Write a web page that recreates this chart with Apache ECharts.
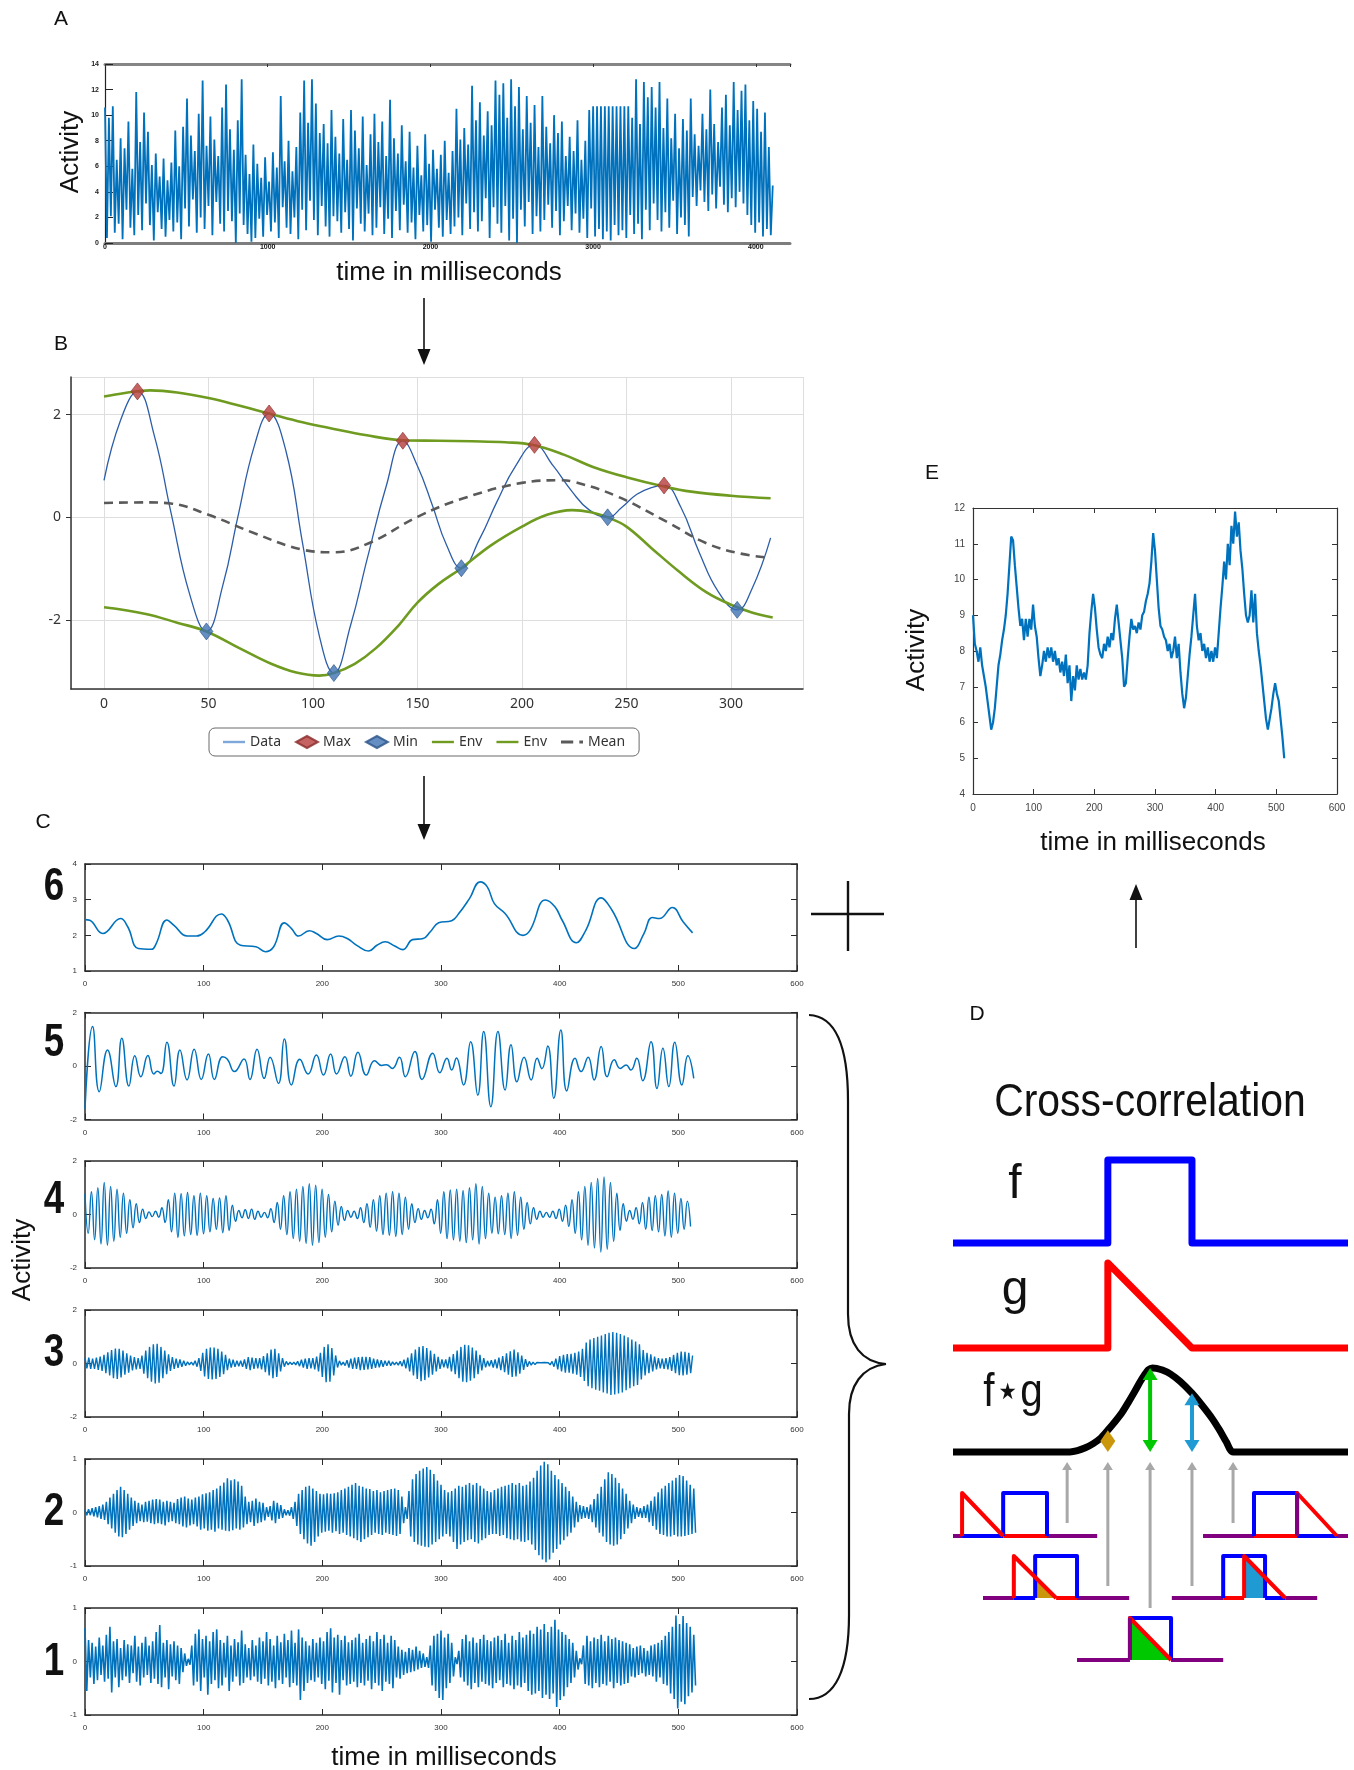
<!DOCTYPE html>
<html>
<head>
<meta charset="utf-8">
<title>Activity decomposition and cross-correlation</title>
<script src="https://cdn.jsdelivr.net/npm/echarts@6/dist/echarts.min.js"></script>
<style>
  html, body { margin: 0; padding: 0; background: #ffffff; }
  #chart { width: 1354px; height: 1770px; }
</style>
</head>
<body>
<div id="chart"></div>
<script>
// ---------------- Panel A: raw activity trace (one sample every rawStepMs) ----------------
const rawStepMs = 12;
const rawActivity = [
  10.6,0.4,9.8,2.1,10.7,0.8,6.5,1.5,8.2,0.3,7.4,2.6,9.5,1.2,5.8,0.6,11.8,2.2,7.9,1.0,
  10.2,3.1,8.7,1.4,6.1,0.2,7.0,2.4,5.2,1.1,6.6,0.5,4.9,1.8,6.3,0.9,8.8,1.6,6.0,0.3,
  9.1,2.7,11.3,1.3,8.4,3.4,7.2,0.8,10.1,2.0,12.7,1.1,7.6,2.9,9.9,0.6,8.1,3.2,6.8,1.5,
  10.6,0.9,12.4,2.5,8.9,1.7,7.3,0.0,9.6,2.3,12.8,1.4,6.9,0.7,5.4,0.1,7.7,0.4,6.2,1.9,
  5.1,0.5,6.7,2.2,4.8,0.9,7.1,1.6,5.9,0.4,11.5,2.8,6.4,1.2,8.0,0.7,5.6,2.0,7.5,0.3,
  10.2,2.6,12.7,1.0,9.4,3.3,12.8,1.8,10.9,0.6,8.6,2.9,9.3,1.3,7.8,0.5,10.4,2.1,8.3,1.7,
  7.0,0.8,9.7,2.4,6.5,1.1,10.4,0.2,8.8,2.7,7.4,1.5,9.9,0.9,6.1,2.3,8.5,0.6,10.1,1.2,
  7.9,2.8,9.5,0.7,6.8,1.9,11.2,0.4,8.2,2.5,7.0,1.0,9.2,3.0,6.4,0.8,8.7,1.6,5.9,0.3,
  7.6,2.2,5.3,0.9,8.5,1.4,6.2,0.1,7.3,2.6,5.8,1.2,6.9,0.5,8.0,1.8,5.5,0.7,7.2,1.3,
  10.5,2.0,8.1,0.6,9.0,3.1,7.7,1.1,12.3,2.4,9.6,0.9,11.0,1.7,8.4,3.5,10.3,0.4,9.2,2.8,
  12.7,1.5,11.6,0.8,12.5,2.9,9.8,0.2,12.8,1.9,10.7,0.0,12.2,2.6,8.9,1.3,11.5,3.2,9.4,0.7,
  10.8,2.1,7.5,0.9,11.5,1.8,9.1,3.0,7.8,1.2,10.0,2.5,8.6,0.6,9.5,1.7,6.8,2.9,8.3,1.0,
  7.2,2.3,9.6,0.8,6.5,1.9,8.0,0.4,10.4,2.7,10.7,0.5,10.7,1.1,10.7,0.3,10.7,0.9,10.7,0.2,
  10.7,1.4,10.7,0.6,10.7,1.0,10.7,0.4,10.7,2.2,9.8,0.7,12.8,1.5,9.3,0.3,12.6,2.6,11.4,1.0,
  12.2,3.1,10.6,1.8,12.6,0.9,9.0,2.4,11.3,1.2,8.2,3.3,10.1,0.7,7.4,2.0,9.7,1.4,8.8,0.5,
  11.3,3.6,8.5,2.9,7.6,4.1,10.1,3.2,8.9,2.5,12.0,3.8,9.3,2.7,7.9,4.4,10.6,3.0,11.6,2.4,
  9.2,3.5,12.6,2.8,10.4,4.0,11.9,3.1,12.4,2.2,9.6,1.4,11.1,0.8,10.5,1.6,8.7,0.5,10.2,1.1,
  7.5,0.6,4.5
];
const rawAxisX = [0, 4210, 1000];
const rawAxisY = [0, 14, 2];

// ---------------- Panel B: one oscillation with its extrema, envelopes and mean ----------------
const decompData = [
  [0,0.72],[8,1.9],[16,2.45],[24,1.6],[32,0.1],[41,-1.5],[49,-2.22],[57,-1.3],[64,0.0],[72,1.4],
  [79,2.02],[87,1.3],[95,-0.5],[103,-2.3],[110,-3.03],[118,-2.1],[126,-0.8],[135,0.6],[143,1.49],
  [150,1.0],[157,0.25],[164,-0.55],[171,-0.99],[180,-0.4],[188,0.3],[197,1.0],[206,1.41],[215,1.0],
  [224,0.5],[232,0.15],[241,0.0],[248,0.2],[255,0.45],[262,0.58],[268,0.62],[276,0.2],[285,-0.7],
  [294,-1.45],[303,-1.8],[310,-1.4],[319,-0.4]
];
const decompMax = [[16,2.45],[79,2.02],[143,1.49],[206,1.41],[268,0.62]];
const decompMin = [[49,-2.22],[110,-3.03],[171,-0.99],[241,0.0],[303,-1.8]];
const envUpper = [
  [0,2.35],[10,2.42],[22,2.47],[35,2.43],[50,2.32],[65,2.17],[79,2.02],[95,1.85],[110,1.72],[125,1.6],
  [143,1.5],[160,1.49],[176,1.48],[192,1.46],[205,1.41],[220,1.22],[234,0.98],[250,0.78],[268,0.6],
  [281,0.5],[300,0.42],[319,0.37]
];
const envLower = [
  [0,-1.75],[20,-1.88],[35,-2.05],[49,-2.22],[65,-2.55],[80,-2.85],[92,-3.02],[103,-3.08],[110,-3.03],
  [120,-2.85],[130,-2.55],[141,-2.1],[150,-1.66],[160,-1.3],[171,-0.99],[185,-0.55],[200,-0.18],
  [212,0.05],[224,0.14],[233,0.1],[241,0.0],[250,-0.18],[262,-0.6],[275,-1.05],[288,-1.45],[300,-1.7],
  [310,-1.85],[320,-1.95]
];
const envMean = [
  [0,0.28],[20,0.29],[32,0.27],[50,0.05],[72,-0.31],[95,-0.63],[110,-0.68],[127,-0.5],[150,0.01],
  [172,0.37],[200,0.67],[218,0.72],[225,0.69],[246,0.4],[269,-0.08],[288,-0.5],[304,-0.7],[319,-0.79]
];
const decompAxisX = [-15.8, 334.5, 50];
const decompAxisY = [-3.34, 2.73, 2];
const decompLegend = ['Data', 'Max', 'Min', 'Env upper', 'Env lower', 'Mean'];

// ---------------- Panel C: components 6 (slowest) to 1 (fastest) ----------------
const compNames = ['6', '5', '4', '3', '2', '1'];
const comp6 = [
  [0,2.44],[4,2.42],[15,2.05],[30,2.47],[36,2.24],[45,1.63],[56,1.61],[60,1.77],[69,2.43],[75,2.28],
  [86,1.98],[94,1.98],[101,2.1],[115,2.6],[120,2.43],[131,1.72],[144,1.68],[152,1.54],[159,1.68],
  [168,2.35],[174,2.19],[180,1.98],[189,2.13],[195,2.05],[204,1.88],[214,1.98],[221,1.91],[229,1.72],
  [239,1.56],[246,1.72],[253,1.82],[261,1.7],[268,1.6],[276,1.88],[285,1.91],[291,2.1],[298,2.35],
  [309,2.41],[315,2.61],[324,3.03],[333,3.5],[339,3.36],[345,2.89],[354,2.61],[369,2.0],[375,2.14],
  [388,2.99],[396,2.8],[402,2.43],[414,1.79],[422,2.14],[435,3.05],[444,2.71],[463,1.63],[471,2.05],
  [478,2.5],[484,2.47],[495,2.78],[504,2.38],[512,2.07]
];
const comp5 = [
  [0,-1.6],[6.4,1.48],[12,-0.96],[19,0.6],[26,-0.77],[31,1.04],[37,-0.75],[42,0.38],[47,-0.4],[53,0.39],
  [58,-0.3],[61,-0.2],[64,-0.28],[69,0.89],[75,-0.75],[80,0.6],[86,-0.52],[92,0.63],[98,-0.5],[104,0.45],
  [109,-0.5],[116,0.35],[120,0.25],[126,-0.21],[134,0.26],[139,-0.5],[145,0.63],[151,-0.46],[156,0.33],
  [163,-0.65],[168,1.01],[174,-0.71],[181,0.25],[188,-0.3],[195,0.41],[201,-0.34],[207,0.45],[212,-0.3],
  [219,0.35],[224,-0.38],[230,0.51],[237,-0.34],[244,0.2],[250,0.02],[254,0.05],[259,-0.09],[265,0.33],
  [270,-0.4],[278,0.54],[284,-0.5],[293,0.48],[299,-0.25],[305,0.29],[309,-0.15],[313,0.3],[319,-0.71],
  [325,0.91],[331,-1.09],[336,1.29],[342,-1.52],[348,1.29],[354,-0.9],[359,0.79],[364,-0.59],[370,0.33],
  [376,-0.52],[381,0.29],[385,-0.1],[390,0.75],[395,-1.21],[401,1.35],[406,-0.93],[413,0.29],[418,-0.21],
  [424,0.33],[429,-0.52],[435,0.73],[440,-0.4],[446,0.23],[451,-0.09],[456,0.04],[460,-0.15],[465,0.29],
  [470,-0.55],[477,0.91],[482,-0.84],[487,0.66],[492,-0.77],[497,0.89],[503,-0.71],[508,0.38],[513,-0.46]
];
// components 4..1: successive extrema in hundredths, evenly spaced in time
const comp4Step = 2.7;
const comp4 = [
  78,-70,85,-95,100,-110,120,-115,105,-100,
  95,-85,80,-70,55,-50,40,-30,20,-15,
  10,-8,12,-10,25,-30,55,-65,80,-85,
  78,-80,82,-75,70,-78,80,-72,70,-65,
  60,-55,62,-68,70,-60,35,-25,15,-12,
  18,-15,20,-18,12,-10,8,-12,22,-30,
  45,-55,70,-75,85,-90,95,-100,105,-108,
  115,-115,110,-105,95,-85,75,-65,50,-40,
  30,-22,15,-10,12,-15,25,-30,40,-48,
  55,-62,70,-75,80,-78,85,-82,80,-75,
  65,-55,40,-30,22,-18,15,-12,20,-35,
  55,-70,85,-90,92,-95,95,-100,90,-105,
  100,-95,115,-110,105,-90,80,-70,65,-72,
  70,-75,80,-90,85,-78,65,-55,45,-35,
  25,-18,12,-10,8,-10,12,-15,20,-25,
  35,-45,55,-70,85,-95,105,-115,120,-125,
  135,-140,140,-130,120,-100,80,-60,40,-25,
  15,-18,25,-35,45,-55,65,-60,70,-65,
  75,-80,88,-85,80,-70,60,-55,50,-45
];
const comp3Step = 1.6;
const comp3 = [
  20,-18,22,-20,18,-20,22,-24,26,-28,
  32,-36,42,-45,50,-55,56,-58,55,-52,
  48,-42,38,-34,30,-26,24,-22,20,-20,
  30,-38,48,-55,62,-68,72,-75,74,-72,
  62,-55,48,-40,34,-28,24,-20,18,-16,
  15,-12,10,-8,6,-5,5,-6,10,-12,
  20,-28,40,-48,55,-58,60,-60,60,-58,
  55,-50,45,-40,32,-25,18,-15,14,-12,
  10,-10,10,-12,15,-20,24,-25,22,-20,
  20,-18,20,-22,28,-32,38,-45,52,-55,
  55,-50,38,-30,20,-12,8,-5,5,-4,
  5,-5,8,-10,14,-15,18,-20,20,-18,
  20,-22,26,-30,40,-50,62,-70,72,-68,
  58,-45,30,-15,10,-6,5,-8,12,-15,
  18,-20,22,-20,24,-25,25,-24,25,-22,
  24,-20,18,-16,15,-14,12,-12,10,-8,
  10,-8,6,-5,5,-6,8,-10,14,-18,
  22,-30,38,-45,52,-58,62,-66,65,-62,
  58,-52,48,-42,36,-30,25,-20,15,-14,
  15,-18,25,-30,35,-40,48,-55,62,-68,
  70,-70,68,-64,60,-55,48,-40,32,-26,
  20,-14,10,-10,12,-15,15,-18,22,-25,
  28,-32,38,-42,46,-50,52,-48,42,-38,
  30,-24,16,-12,8,-6,5,-4,4,-3,
  3,-3,4,-3,3,-5,8,-12,18,-22,
  28,-30,32,-34,35,-34,36,-38,40,-42,
  45,-50,55,-65,78,-85,90,-92,95,-98,
  100,-102,105,-108,110,-112,115,-118,118,-116,
  115,-112,110,-108,105,-100,98,-92,90,-85,
  82,-80,72,-60,50,-45,40,-36,34,-30,
  26,-22,20,-18,18,-20,20,-22,24,-28,
  32,-36,40,-44,45,-45,44,-42,40,-36,
  30
];
const comp2Step = 1.5;
const comp2 = [
  4,-5,6,-5,8,-7,10,-9,12,-12,
  15,-14,20,-22,28,-30,35,-38,42,-45,
  48,-46,42,-40,35,-32,28,-25,22,-20,
  18,-16,15,-18,20,-17,22,-20,24,-22,
  25,-20,24,-22,20,-24,22,-18,20,-16,
  18,-20,25,-22,28,-26,30,-28,26,-24,
  24,-22,28,-26,30,-32,34,-30,36,-34,
  38,-32,42,-36,45,-30,50,-32,56,-34,
  64,-35,60,-33,62,-30,58,-32,50,-28,
  30,-22,20,-18,22,-25,26,-20,20,-18,
  18,-15,10,-8,12,-15,22,-20,18,-12,
  14,-10,6,-5,4,-6,10,-12,20,-25,
  35,-40,42,-50,48,-58,50,-62,45,-55,
  40,-45,35,-38,34,-36,36,-34,35,-38,
  36,-35,38,-40,42,-38,45,-42,48,-45,
  52,-48,55,-52,50,-55,48,-50,45,-46,
  44,-42,40,-38,42,-40,38,-42,40,-38,
  42,-40,44,-42,45,-44,42,-40,30,-20,
  10,-12,40,-45,62,-55,72,-60,78,-62,
  82,-64,85,-65,80,-60,72,-55,60,-50,
  52,-45,42,-40,38,-45,40,-55,45,-68,
  50,-60,48,-55,52,-52,55,-50,52,-55,
  55,-58,50,-52,45,-48,40,-42,38,-40,
  42,-40,45,-44,48,-42,50,-48,52,-50,
  55,-52,52,-50,55,-54,50,-55,52,-52,
  58,-60,65,-70,78,-80,88,-88,95,-93,
  90,-88,78,-75,70,-68,62,-60,55,-52,
  48,-45,40,-38,30,-28,20,-18,14,-12,
  12,-10,10,-12,15,-18,25,-28,35,-38,
  48,-45,62,-55,75,-60,72,-62,65,-60,
  55,-50,45,-40,35,-30,22,-20,15,-12,
  10,-8,8,-10,12,-10,15,-18,22,-25,
  30,-32,38,-40,45,-42,50,-45,55,-45,
  60,-42,65,-45,70,-45,68,-44,60,-42,
  52,-40,45,-38
];
const comp1Step = 1.5;
const comp1 = [
  62,-55,40,-30,35,-42,28,-35,45,-25,
  30,-38,50,-32,65,-58,38,-30,42,-48,
  25,-35,40,-28,32,-40,30,-22,48,-38,
  28,-45,35,-30,46,-25,30,-40,38,-32,
  55,-42,68,-48,35,-30,40,-52,32,-28,
  38,-35,30,-42,25,-20,15,-8,5,-6,
  30,-45,52,-38,60,-55,42,-30,48,-62,
  38,-42,55,-35,60,-50,40,-45,35,-30,
  48,-55,30,-38,42,-28,36,-45,58,-40,
  32,-30,25,-35,40,-28,30,-38,45,-42,
  38,-32,55,-45,42,-38,30,-50,48,-35,
  36,-42,52,-30,40,-48,58,-40,35,-45,
  60,-72,45,-55,38,-40,30,-35,42,-38,
  35,-30,45,-42,38,-52,55,-36,62,-58,
  45,-40,50,-62,40,-35,48,-45,36,-42,
  40,-38,45,-48,52,-40,35,-45,42,-36,
  48,-52,38,-40,55,-45,42,-55,50,-38,
  35,-42,48,-50,40,-30,28,-32,22,-25,
  18,-22,25,-20,22,-18,28,-15,20,-12,
  15,-10,8,-12,30,-45,48,-55,52,-68,
  58,-72,45,-50,52,-40,35,-28,8,-5,
  20,-30,42,-38,50,-45,38,-52,45,-40,
  35,-48,42,-38,50,-42,40,-45,38,-50,
  45,-40,48,-35,40,-48,52,-42,35,-45,
  48,-52,40,-45,55,-48,45,-40,50,-55,
  58,-62,52,-60,65,-55,60,-68,70,-62,
  55,-70,65,-60,78,-85,60,-72,55,-65,
  50,-48,42,-40,35,-30,20,-15,6,-5,
  30,-42,48,-45,38,-50,45,-40,42,-48,
  50,-42,38,-45,48,-38,42,-50,45,-40,
  40,-45,38,-42,35,-40,32,-28,25,-30,
  28,-25,30,-22,25,-28,20,-25,30,-28,
  32,-38,35,-30,40,-42,48,-45,55,-60,
  65,-70,86,-88,70,-75,85,-80,72,-65,
  65,-58,50,-45
];
const compAxisX = [0, 600, 100];
const compAxisY = [[1,4,1], [-2,2,2], [-2,2,2], [-2,2,2], [-1,1,1], [-1,1,1]];

// ---------------- Panel E: recombined activity (one sample every sumStepMs) ----------------
const sumStepMs = 3;
const sumActivity = [
  9.0,8.2,8.0,7.7,8.1,7.6,7.3,7.0,6.6,6.2,
  5.8,6.0,6.4,7.0,7.6,7.9,8.3,8.6,9.0,9.6,
  10.4,11.2,11.1,10.4,9.8,9.2,8.7,8.9,8.3,8.9,
  8.4,8.9,8.6,9.3,8.7,8.4,7.8,7.3,7.6,8.0,
  7.7,8.1,7.8,8.1,7.7,8.0,7.6,7.8,7.4,7.7,
  7.3,7.9,7.1,7.6,6.6,7.3,6.9,7.6,7.2,7.5,
  7.2,7.4,7.2,7.6,8.5,9.1,9.6,9.2,8.6,8.1,
  7.9,7.8,8.2,8.0,8.4,8.1,8.5,8.3,8.9,9.3,
  8.8,8.3,7.8,7.0,7.1,7.8,8.4,8.9,8.6,8.7,
  8.5,8.8,8.6,9.0,9.1,9.4,9.6,9.9,10.5,11.3,
  10.8,10.0,9.2,8.7,8.6,8.4,8.3,8.0,8.2,7.8,
  8.0,8.4,7.8,8.2,7.4,6.8,6.4,6.7,7.3,7.9,
  8.4,9.0,9.6,8.7,8.3,8.5,8.0,8.2,7.8,8.1,
  7.7,8.0,7.7,8.1,7.8,8.5,9.2,9.8,10.5,10.0,
  11.0,10.4,11.5,11.0,11.9,11.2,11.6,10.8,10.3,9.6,
  9.0,8.8,9.0,9.7,8.8,9.6,8.5,8.0,7.6,7.1,
  6.6,6.1,5.8,6.1,6.4,6.8,7.1,6.8,6.6,6.1,
  5.6,5.0
];
const sumAxisX = [0, 600, 100];
const sumAxisY = [4, 12, 1];

// ---------------- Panel D: cross-correlation of a box f and a ramp g ----------------
const fSignal = [[0,0],[39.2,0],[39.2,1],[60.5,1],[60.5,0],[100,0]];
const gSignal = [[0,0],[39.2,0],[39.2,1],[60.5,0],[100,0]];
const fgSignal = [
  [0,0],[29.6,0],[31.5,0.015],[33.5,0.05],[35.5,0.1],[37.5,0.17],[39.2,0.26],[41,0.36],[42.8,0.47],
  [44.5,0.6],[46,0.72],[47.3,0.83],[48.5,0.92],[49.5,0.98],[50.5,1.0],[51.5,0.995],[53,0.975],
  [55,0.93],[57.5,0.84],[60.5,0.70],[63,0.56],[65.6,0.40],[67.5,0.26],[69.2,0.12],[70.9,0],[100,0]
];
const lagValues = [28.9, 39.2, 49.9, 60.5, 70.9];
const lagHeights = [0, 0.26, 1.0, 0.70, 0];
// each sliding snapshot: extent of the zero line, box of f, ramp of g
const overlapSpans = [[0,36.5], [7.6,44.6], [31.4,68.4], [55.4,92.2], [63.3,100]];
const overlapBoxes = [[12.7,23.8], [20.8,31.4], [44.8,55.2], [68.4,79.0], [76.2,87.1]];
const overlapRamps = [[2.3,12.7], [15.4,26.1], [44.8,55.2], [73.7,84.1], [87.1,97.2]];

// ================= layout and styling =================
const FONT = '"Liberation Sans", Arial, sans-serif';
const UI_FONT = '"Noto Sans", "Open Sans", sans-serif';
const TRACE = '#0072BD';
const layout = {
  raw: { left: 105, top: 64, width: 685, height: 179 },
  decomp: { left: 71, top: 377, width: 732, height: 312 },
  compLeft: 85, compWidth: 712, compHeight: 107,
  compTops: [864, 1012.5, 1161, 1310, 1459, 1608],
  compDigitY: [887, 1043, 1200, 1353, 1512, 1662],
  sum: { left: 973, top: 508, width: 364, height: 286 },
  corrLeft: 953, corrWidth: 395,
  corrRows: [[1160, 83], [1263, 85], [1368, 84]],
  overlapRows: [[1493, 43], [1556, 42], [1618, 42]],
  overlapRowOf: [0, 1, 2, 1, 0]
};
const overlapFillColors = [null, '#c9960c', '#00c800', '#1f9ad2', null];
const lagArrowColors = [null, '#c9960c', '#00c800', '#1f9ad2', null];
const B_COLORS = { data: '#2c5da8', dataKey: '#7ea8da', max: '#b63c3c', min: '#3f72b3', env: '#6f9b21', mean: '#5a5a5a' };
const LINE_KEY = 'path://M0,0H22V2.4H0Z';
const DASHDOT_KEY = 'path://M0,0H10V2.6H0Z M15,0H18V2.6H15Z';

const grids = [], xAxes = [], yAxes = [], series = [];
function addGrid(r) { grids.push({ left: r.left, top: r.top, width: r.width, height: r.height, containLabel: false }); return grids.length - 1; }
const sampled = (vals, step, scale) => vals.map((v, i) => [Math.round(i * step * 100) / 100, v * (scale || 1)]);

function frameAxes(gi, xr, yr, st) {
  const line = { show: true, onZero: false, lineStyle: { color: st.frame, width: st.frameWidth } };
  const tick = { show: true, inside: true, length: st.tickLen, lineStyle: { color: st.frame, width: 1 } };
  const base = { gridIndex: gi, type: 'value', splitLine: { show: false }, axisLine: line, axisTick: tick };
  xAxes.push(Object.assign({}, base, { position: 'bottom', min: xr[0], max: xr[1], interval: xr[2], axisLabel: Object.assign({ show: true }, st.xLabel) }));
  const xi = xAxes.length - 1;
  xAxes.push(Object.assign({}, base, { position: 'top', min: xr[0], max: xr[1], interval: xr[2], axisLabel: { show: false } }));
  yAxes.push(Object.assign({}, base, { position: 'left', min: yr[0], max: yr[1], interval: yr[2], axisLabel: Object.assign({ show: true }, st.yLabel) }));
  const yi = yAxes.length - 1;
  yAxes.push(Object.assign({}, base, { position: 'right', min: yr[0], max: yr[1], interval: yr[2], axisLabel: { show: false } }));
  return { xi, yi };
}
function hiddenAxes(gi, xr, yr) {
  xAxes.push({ gridIndex: gi, type: 'value', show: false, min: xr[0], max: xr[1] });
  yAxes.push({ gridIndex: gi, type: 'value', show: false, min: yr[0], max: yr[1] });
  return { xi: xAxes.length - 1, yi: yAxes.length - 1 };
}
function trace(ax, data, opts) {
  return Object.assign({
    type: 'line', xAxisIndex: ax.xi, yAxisIndex: ax.yi, data: data,
    symbol: 'none', showSymbol: false, animation: false, silent: true,
    lineStyle: { color: TRACE, width: 1.2 }
  }, opts || {});
}

// ---- Panel A ----
const gA = addGrid(layout.raw);
xAxes.push({ gridIndex: gA, type: 'value', position: 'bottom', min: rawAxisX[0], max: rawAxisX[1], interval: rawAxisX[2],
  axisLine: { show: true, onZero: false, lineStyle: { color: '#7d7d7d', width: 3 } }, axisTick: { show: false }, splitLine: { show: false },
  axisLabel: { fontSize: 7, fontWeight: 'bold', color: '#111', margin: 1, showMaxLabel: false, fontFamily: FONT, formatter: v => String(v) } });
const axA = { xi: xAxes.length - 1 };
xAxes.push({ gridIndex: gA, type: 'value', position: 'top', min: rawAxisX[0], max: rawAxisX[1], interval: rawAxisX[2],
  axisLine: { show: true, onZero: false, lineStyle: { color: '#858585', width: 3 } }, axisTick: { show: true, inside: true, length: 3, lineStyle: { color: '#333' } },
  axisLabel: { show: false }, splitLine: { show: false } });
yAxes.push({ gridIndex: gA, type: 'value', position: 'left', min: rawAxisY[0], max: rawAxisY[1], interval: rawAxisY[2],
  axisLine: { show: true, onZero: false, lineStyle: { color: '#222', width: 1.2 } }, axisTick: { show: true, inside: true, length: 8, lineStyle: { color: '#222' } },
  splitLine: { show: false }, axisLabel: { fontSize: 7, fontWeight: 'bold', color: '#222', margin: 6, fontFamily: FONT } });
axA.yi = yAxes.length - 1;
series.push(trace(axA, sampled(rawActivity, rawStepMs), { lineStyle: { color: TRACE, width: 1.8 } }));

// ---- Panel B ----
const gB = addGrid(layout.decomp);
xAxes.push({ gridIndex: gB, type: 'value', min: decompAxisX[0], max: decompAxisX[1], minInterval: decompAxisX[2], maxInterval: decompAxisX[2], splitNumber: 7,
  axisLine: { show: true, onZero: false, lineStyle: { color: '#333', width: 1.5 } }, axisTick: { show: false },
  splitLine: { show: true, lineStyle: { color: '#dedede', width: 1 } },
  axisLabel: { fontSize: 14, color: '#333', margin: 8, showMinLabel: false, showMaxLabel: false, fontFamily: UI_FONT } });
const axB = { xi: xAxes.length - 1 };
yAxes.push({ gridIndex: gB, type: 'value', min: decompAxisY[0], max: decompAxisY[1], minInterval: decompAxisY[2], maxInterval: decompAxisY[2], splitNumber: 3,
  axisLine: { show: true, onZero: false, lineStyle: { color: '#333', width: 1.5 } }, axisTick: { show: true, length: 5, lineStyle: { color: '#333' } },
  splitLine: { show: true, lineStyle: { color: '#dedede', width: 1 } },
  axisLabel: { fontSize: 14, color: '#333', margin: 10, showMinLabel: false, showMaxLabel: false, fontFamily: UI_FONT } });
axB.yi = yAxes.length - 1;
series.push(trace(axB, decompData, { name: decompLegend[0], smooth: 0.45, z: 2, itemStyle: { color: B_COLORS.data }, lineStyle: { color: B_COLORS.data, width: 1.3 } }));
series.push({ type: 'scatter', name: decompLegend[1], xAxisIndex: axB.xi, yAxisIndex: axB.yi, data: decompMax, symbol: 'diamond', symbolSize: [13, 17],
  itemStyle: { color: B_COLORS.max, borderColor: '#8a2b2b', borderWidth: 0.8 }, z: 6, animation: false, silent: true });
series.push({ type: 'scatter', name: decompLegend[2], xAxisIndex: axB.xi, yAxisIndex: axB.yi, data: decompMin, symbol: 'diamond', symbolSize: [13, 17],
  itemStyle: { color: B_COLORS.min, borderColor: '#2b5387', borderWidth: 0.8 }, z: 6, animation: false, silent: true });
series.push(trace(axB, envUpper, { name: decompLegend[3], smooth: 0.4, z: 3, itemStyle: { color: B_COLORS.env }, lineStyle: { color: B_COLORS.env, width: 2.6 } }));
series.push(trace(axB, envLower, { name: decompLegend[4], smooth: 0.4, z: 3, itemStyle: { color: B_COLORS.env }, lineStyle: { color: B_COLORS.env, width: 2.6 } }));
series.push(trace(axB, envMean, { name: decompLegend[5], smooth: 0.4, z: 3, itemStyle: { color: B_COLORS.mean }, lineStyle: { color: B_COLORS.mean, width: 2.6, type: [9, 6] } }));

// ---- Panel C ----
const compStyle = {
  frame: '#2a2a2a', frameWidth: 1.5, tickLen: 6,
  xLabel: { fontSize: 8, color: '#333', margin: 9, fontFamily: FONT },
  yLabel: { fontSize: 8, color: '#333', margin: 8, fontFamily: FONT }
};
const compData = [
  comp6, comp5,
  sampled(comp4, comp4Step, 0.01), sampled(comp3, comp3Step, 0.01),
  sampled(comp2, comp2Step, 0.01), sampled(comp1, comp1Step, 0.01)
];
const compSmooth = [0.45, 0.5, 0.5, false, false, false];
const compWidth = [1.6, 1.5, 1.4, 1.4, 1.5, 1.6];
layout.compTops.forEach((top, i) => {
  const gi = addGrid({ left: layout.compLeft, top: top, width: layout.compWidth, height: layout.compHeight });
  const ax = frameAxes(gi, compAxisX, compAxisY[i], compStyle);
  series.push(trace(ax, compData[i], { smooth: compSmooth[i], lineStyle: { color: TRACE, width: compWidth[i] } }));
});

// ---- Panel E ----
const gE = addGrid(layout.sum);
const axE = frameAxes(gE, sumAxisX, sumAxisY, {
  frame: '#333', frameWidth: 1.2, tickLen: 5,
  xLabel: { fontSize: 10, color: '#444', margin: 9, fontFamily: FONT },
  yLabel: { fontSize: 10, color: '#444', margin: 8, fontFamily: FONT }
});
series.push(trace(axE, sampled(sumActivity, sumStepMs), { lineStyle: { color: TRACE, width: 2.2 } }));

// ---- Panel D ----
const corrAxes = layout.corrRows.map(r => {
  const gi = addGrid({ left: layout.corrLeft, top: r[0], width: layout.corrWidth, height: r[1] });
  return Object.assign(hiddenAxes(gi, [0, 100], [0, 1]), { gi });
});
const overlapAxes = layout.overlapRows.map(r => {
  const gi = addGrid({ left: layout.corrLeft, top: r[0], width: layout.corrWidth, height: r[1] });
  return Object.assign(hiddenAxes(gi, [0, 100], [0, 1]), { gi });
});
const flat = { clip: false, z: 3 };
series.push(trace(corrAxes[0], fSignal, Object.assign({ lineStyle: { color: '#0000ff', width: 7, join: 'round' } }, flat)));
series.push(trace(corrAxes[1], gSignal, Object.assign({ lineStyle: { color: '#ff0000', width: 7, join: 'round' } }, flat)));
series.push(trace(corrAxes[2], fgSignal, Object.assign({ smooth: 0.25, lineStyle: { color: '#000000', width: 7, join: 'round' } }, flat)));

const C_BLUE = '#0000ff', C_RED = '#ff0000', C_PURPLE = '#800080';
overlapSpans.forEach((span, i) => {
  const ax = overlapAxes[layout.overlapRowOf[i]];
  const box = overlapBoxes[i], ramp = overlapRamps[i];
  const rampAt = u => 1 - (u - ramp[0]) / (ramp[1] - ramp[0]);
  // zero line: purple where both are zero, blue under the ramp only, red under the box only
  const cuts = Array.from(new Set([span[0], span[1], box[0], box[1], ramp[0], ramp[1]]))
    .filter(v => v >= span[0] && v <= span[1]).sort((a, b) => a - b);
  for (let k = 0; k < cuts.length - 1; k++) {
    const a = cuts[k], b = cuts[k + 1], m = (a + b) / 2;
    const inBox = m > box[0] && m < box[1], inRamp = m > ramp[0] && m < ramp[1];
    if (inBox && inRamp) continue;
    const col = inBox ? C_RED : (inRamp ? C_BLUE : C_PURPLE);
    series.push(trace(ax, [[a, 0], [b, 0]], { clip: false, z: 2, lineStyle: { color: col, width: 4 } }));
  }
  const o0 = Math.max(box[0], ramp[0]), o1 = Math.min(box[1], ramp[1]);
  if (o1 > o0 && overlapFillColors[i]) {
    series.push(trace(ax, [[o0, rampAt(o0)], [o1, rampAt(o1)]], { clip: false, z: 1,
      lineStyle: { width: 0, color: overlapFillColors[i] }, areaStyle: { color: overlapFillColors[i], opacity: 1 } }));
  }
  series.push(trace(ax, [[box[0], 0], [box[0], 1], [box[1], 1], [box[1], 0]], { clip: false, z: 3, lineStyle: { color: C_BLUE, width: 4, join: 'round' } }));
  series.push(trace(ax, [[ramp[0], 0], [ramp[0], 1], [ramp[1], 0]], { clip: false, z: 4, lineStyle: { color: C_RED, width: 4, join: 'round' } }));
  if (Math.abs(ramp[0] - box[0]) < 1e-6 || Math.abs(ramp[0] - box[1]) < 1e-6) {
    series.push(trace(ax, [[ramp[0], 0], [ramp[0], 1]], { clip: false, z: 5, lineStyle: { color: C_PURPLE, width: 4 } }));
  }
});

const option = {
  animation: false,
  backgroundColor: '#ffffff',
  textStyle: { fontFamily: FONT },
  grid: grids, xAxis: xAxes, yAxis: yAxes, series: series,
  legend: {
    left: 209, top: 728, padding: [7, 14], itemGap: 14, itemWidth: 22, itemHeight: 12, symbolKeepAspect: true,
    borderColor: '#6a6a6a', borderWidth: 1, borderRadius: 6,
    textStyle: { fontSize: 14, color: '#333', fontFamily: UI_FONT },
    formatter: name => (name.indexOf('Env') === 0 ? 'Env' : name),
    data: [
      { name: decompLegend[0], icon: LINE_KEY, itemStyle: { color: B_COLORS.dataKey } },
      { name: decompLegend[1], icon: 'diamond', itemStyle: { color: B_COLORS.max } },
      { name: decompLegend[2], icon: 'diamond', itemStyle: { color: B_COLORS.min } },
      { name: decompLegend[3], icon: LINE_KEY, itemStyle: { color: B_COLORS.env } },
      { name: decompLegend[4], icon: LINE_KEY, itemStyle: { color: B_COLORS.env } },
      { name: decompLegend[5], icon: DASHDOT_KEY, itemStyle: { color: B_COLORS.mean } }
    ]
  }
};

const chart = echarts.init(document.getElementById('chart'), null, { renderer: 'canvas', width: 1354, height: 1770 });
chart.setOption(option);

// ================= annotations =================
const G = [];
function label(text, x, y, size, extra) {
  G.push(Object.assign({ type: 'text', x: x, y: y, z: 20, silent: true,
    style: { text: text, font: (extra && extra.weight ? extra.weight + ' ' : '') + size + 'px ' + FONT, fill: '#111', textAlign: 'center', textVerticalAlign: 'middle' } },
    extra && extra.el ? extra.el : {}));
}
function vline(x, y1, y2, color, w) { G.push({ type: 'line', z: 20, silent: true, shape: { x1: x, y1: y1, x2: x, y2: y2 }, style: { stroke: color, lineWidth: w } }); }
function head(x, tipY, dir, w, h, color) {
  G.push({ type: 'polygon', z: 21, silent: true, shape: { points: [[x - w / 2, tipY - dir * h], [x + w / 2, tipY - dir * h], [x, tipY]] }, style: { fill: color } });
}
// vertical arrow from y1 to the tip at y2
function arrow(x, y1, y2, color, w, hw, hh) {
  const dir = y2 > y1 ? 1 : -1;
  vline(x, y1, y2 - dir * (hh - 1), color, w);
  head(x, y2, dir, hw, hh, color);
}

// panel letters
label('A', 61, 19, 21); label('B', 61, 344, 21); label('C', 43, 822, 21); label('D', 977, 1014, 21); label('E', 932, 473, 21);
// axis titles
const ROT = Math.PI / 2;
label('Activity', 71, 152, 26, { el: { rotation: ROT } });
label('time in milliseconds', 449, 273, 26);
label('Activity', 23, 1260, 26, { el: { rotation: ROT } });
label('time in milliseconds', 444, 1758, 26);
label('Activity', 917, 650, 26, { el: { rotation: ROT } });
label('time in milliseconds', 1153, 843, 26);
// component numbers
compNames.forEach((n, i) => label(n, 54, layout.compDigitY[i], 46, { weight: 'bold', el: { scaleX: 0.8 } }));
// flow arrows
arrow(424, 298, 365, '#111', 1.6, 13, 16);
arrow(424, 776, 840, '#111', 1.6, 13, 16);
arrow(1136, 948, 884, '#111', 1.6, 13, 16);
// plus sign
G.push({ type: 'line', z: 20, silent: true, shape: { x1: 811, y1: 914, x2: 884, y2: 914 }, style: { stroke: '#111', lineWidth: 2.4 } });
vline(848, 881, 951, '#111', 2.4);
// brace grouping components 5..1
const brace = [
  { type: 'bezierCurve', shape: { x1: 809, y1: 1015, cpx1: 835, cpy1: 1016, cpx2: 848, cpy2: 1045, x2: 848, y2: 1101 } },
  { type: 'line', shape: { x1: 848, y1: 1101, x2: 848, y2: 1314 } },
  { type: 'bezierCurve', shape: { x1: 848, y1: 1314, cpx1: 848, cpy1: 1345, cpx2: 862, cpy2: 1362, x2: 886, y2: 1364 } },
  { type: 'bezierCurve', shape: { x1: 886, y1: 1364, cpx1: 862, cpy1: 1367, cpx2: 849, cpy2: 1385, x2: 849, y2: 1414 } },
  { type: 'line', shape: { x1: 849, y1: 1414, x2: 849, y2: 1615 } },
  { type: 'bezierCurve', shape: { x1: 849, y1: 1615, cpx1: 849, cpy1: 1670, cpx2: 835, cpy2: 1699, x2: 809, y2: 1699 } }
];
brace.forEach(b => G.push(Object.assign(b, { z: 20, silent: true, style: { stroke: '#111', lineWidth: 2.2, fill: null } })));

// cross-correlation diagram texts
label('Cross-correlation', 1150, 1103, 46, { el: { scaleX: 0.89 } });
label('f', 1015, 1185, 48);
label('g', 1015, 1291, 48);
label('f\u22C6g', 1013, 1393, 46, { el: { scaleX: 0.88 } });

// lag arrows: coloured double arrows under the correlation curve, grey arrows from each snapshot
const px = (ax, p) => chart.convertToPixel({ gridIndex: ax.gi }, p);
lagValues.forEach((lag, i) => {
  const base = px(corrAxes[2], [lag, 0]);
  if (lagArrowColors[i]) {
    const top = px(corrAxes[2], [lag, lagHeights[i]]);
    const len = base[1] - top[1];
    const hh = Math.min(12, len / 2), hw = Math.min(15, len * 0.7 + 4);
    vline(base[0], top[1] + hh - 1, base[1] - hh + 1, lagArrowColors[i], 4);
    head(base[0], top[1], -1, hw, hh, lagArrowColors[i]);
    head(base[0], base[1], 1, hw, hh, lagArrowColors[i]);
  }
  const row = layout.overlapRowOf[i];
  const rowTop = px(overlapAxes[row], [0, 1])[1];
  const bottom = row === 2 ? rowTop - 10 : rowTop + 30;
  arrow(base[0], bottom, base[1] + 10, '#a8a8a8', 3, 10, 8);
});

chart.setOption({ graphic: G });
</script>
</body>
</html>
